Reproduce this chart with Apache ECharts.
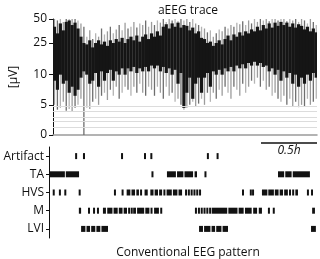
<!DOCTYPE html>
<html>
<head>
<meta charset="utf-8">
<script src="https://cdn.jsdelivr.net/npm/echarts@6/dist/echarts.min.js"></script>
<style>
  html, body { margin: 0; padding: 0; background: #fff; }
  #chart { width: 320px; height: 259px; }
</style>
</head>
<body>
<div id="chart"></div>
<script>
// aEEG amplitude per sample (µV)
const traceGrayHi = [50,48,50,46,50,50,50,50,48,44,40, 30,36,28,33,30,38,32,35,40,33,37,42,36,45,38,40,46,39,44,42,48,40,46,
  42,48,45,50,46,50,48,50,47,50,48, 50,46,50,44,42,40,38,34,36,30,33,37,35,40,38,42,40,45,43,47,42,
  48,44,50,46,50,48,50,47,50,50,48,50,50,47,50,48,50,46,50,48,44,50,46,42]
const traceBlackHi = [40,33,44,36,46,48,42,45,38,30,25, 24,27,22,25,27,24,26,23,27,25,28,26,29,25,28,30,27,31,26,30,32,28,33,
  30,35,31,40,43,38,44,40,45,39,42, 41,36,39,33,35,29,28,25,26,23,25,27,24,28,31,27,32,30,34,31,35,
  33,37,35,40,36,42,38,44,39,45,41,46,42,45,40,44,39,43,41,37,40,35,38,34]
const traceBlackLo = [9,7.5,10,8.5,9,7,8,6.5,7.5,9.5,11, 10,8.5,9,10.5,8,11,9,10.5,11.5,9,11,10,12,10,12,11,12.5,10.5,12,11,12.5,11,13,
  12,13,11,12.5,10.5,12,10,11.5,8.5,10.5,4.5, 7,9.5,6,8.5,9.5,7,9.5,10.5,8,11,10,11.5,10,12,11,12.5,11,13,12,13.5,12,
  14,13,14.5,13,14,12.5,13,11,12,10,11.5,9,11,9.5,10.5,8.5,10,8,9.5,8.5,10,9,10.5,9.5]
const traceGrayLo = [5,4.2,4.5,5.5,4,4.3,3.8,4.5,5,6,0, 4.5,4.3,5.5,6,5,6.5,7,5.8,7.5,6.5,8,6,7,8,7.5,6.5,8,7,8.5,7,6.5,8,7.5,
  6.5,8,7,6,8,6.5,7,5.5,6,5,4.2, 4.5,5,5.5,4.8,5.2,6,5,7,5.5,7,6,7.5,6.5,8,7,6,8,7.5,6.5,8.5,7,
  8,9,8.5,9.5,8,9,7.5,8,6.5,7,6,5.5,6.5,5,6,4.8,5.5,4.6,5,4.7,6,5,5.5,6]
const sampleStep = 1.6      // minutes between samples
const timeMax = 143.6       // minutes shown
const yTicks = [0, 5, 10, 25, 50]
const faintLevels = [1.3, 2.2, 3.0, 3.9, 4.8]

// conventional EEG pattern episodes, [start, end] in minutes
const rows = ['Artifact', 'TA', 'HVS', 'M', 'LVI']
const artifactEv = [[14.0,15.0],[18.2,19.3],[38.6,39.6],[50.9,51.6],[54.3,55.2],[84.6,85.4],[89.8,90.8]]
const taEv = [[0,8.5],[9.0,16.1],[54.9,55.7],[63.2,68.0],[68.6,72.0],[72.6,77.2],[78.0,79.3],[83.3,84.1],
  [122.7,126.0],[126.6,130.0],[130.6,139.8]]
const hvsEv = [[2.0,2.7],[5.3,6.0],[8.2,9.1],[15.9,16.6],[34.8,35.5],[38.9,39.6],[41.6,43.6],[44.2,46.1],
  [46.8,48.2],[48.8,49.8],[51.2,52.9],[54.3,56.0],[56.6,58.4],[59.0,60.6],[61.3,62.3],[63.0,65.8],
  [66.4,68.8],[69.4,71.3],[72.9,73.6],[74.4,75.1],[75.9,76.6],[77.4,78.1],[78.9,79.6],[80.4,81.4],
  [103.4,104.0],[107.6,108.3],[108.8,109.4],[114.1,117.0],[117.5,120.5],[121.0,123.0],[123.6,125.4],
  [126.0,128.0],[128.6,129.6],[130.3,131.2],[132.0,133.4],[138.2,138.9],[140.4,141.0]]
const mEv = [[16.0,17.2],[20.9,21.6],[23.6,24.5],[25.7,26.6],[28.9,30.5],[31.2,34.0],[34.6,36.8],[37.4,39.4],
  [40.0,41.8],[42.4,43.2],[43.8,44.5],[45.1,46.6],[47.2,51.0],[51.6,53.8],[54.4,55.4],[56.3,58.9],[59.6,60.5],
  [78.2,78.9],[79.8,80.5],[81.3,82.0],[82.8,83.5],[84.3,85.0],[85.8,86.5],[87.2,95.5],[96.1,101.0],
  [101.6,104.3],[105.0,108.6],[109.4,111.5],[112.4,114.1],[117.3,118.0],[119.9,120.6],[141.0,142.5]]
const lviEv = [[17.2,19.5],[20.1,22.0],[22.6,24.8],[25.4,27.5],[28.1,31.6],[80.4,82.5],[83.1,86.5],
  [87.1,89.0],[89.6,92.4],[93.0,95.9],[140.4,143.0]]
const scaleBarMin = 30

// semi-log aEEG scale: linear up to 10 µV, log above
const K = 13.2
const toAxis = v => v <= 10 ? v : 10 + K * Math.log10(v / 10)
const fromAxis = a => a <= 10 ? a : 10 * Math.pow(10, (a - 10) / K)

const font = '"Open Sans", "Noto Sans", sans-serif'
const traceTime = traceGrayHi.map((_, i) => 0.8 + i * sampleStep)
const grayData = traceTime.map((t, i) => [t, toAxis(traceGrayLo[i]), toAxis(traceGrayHi[i])])
const blackData = traceTime.map((t, i) => [t, toAxis(traceBlackLo[i]), toAxis(traceBlackHi[i])])

const eventData = []
;[artifactEv, taEv, hvsEv, mEv, lviEv].forEach((list, k) => {
  list.forEach(([s, e]) => eventData.push([s, e, k]))
})

// vertical amplitude bar per sample; alternate shades so the spikes read as separate strokes
const barItem = (w, colors) => (params, api) => {
  const t = api.value(0)
  const top = api.coord([t, api.value(2)])
  const bot = api.coord([t, api.value(1)])
  return {
    type: 'rect',
    shape: { x: top[0] - w / 2, y: top[1], width: w, height: bot[1] - top[1] },
    style: { fill: colors[params.dataIndex % colors.length] }
  }
}

const chart = echarts.init(document.getElementById('chart'), null, { renderer: 'canvas' })

chart.setOption({
  animation: false,
  textStyle: { fontFamily: font },
  title: [
    { text: 'aEEG trace', left: 183, top: 0, textAlign: 'center',
      textStyle: { fontSize: 12, fontWeight: 'normal', color: '#111', fontFamily: font } },
    { text: 'Conventional EEG pattern', left: 183, top: 242, textAlign: 'center',
      textStyle: { fontSize: 12, fontWeight: 'normal', color: '#111', fontFamily: font } }
  ],
  grid: [
    { left: 49, right: 3, top: 19, height: 116 },
    { left: 49, right: 3, top: 147, height: 91 }
  ],
  xAxis: [
    { type: 'value', gridIndex: 0, min: 0, max: timeMax,
      axisLine: { show: true, lineStyle: { color: '#9a9a9a', width: 1.5 } },
      axisTick: { show: false }, axisLabel: { show: false }, splitLine: { show: false } },
    { type: 'value', gridIndex: 1, min: 0, max: timeMax, show: false }
  ],
  yAxis: [
    { type: 'value', gridIndex: 0, min: 0, max: toAxis(50),
      name: '[µV]', nameLocation: 'middle', nameGap: 33, nameRotate: 90,
      nameTextStyle: { fontSize: 12, color: '#111', fontFamily: font },
      axisLine: { show: true, lineStyle: { color: '#111', width: 1 } },
      axisTick: { show: true, length: 4, customValues: yTicks.map(toAxis), lineStyle: { color: '#111' } },
      axisLabel: { fontSize: 12, color: '#111', margin: 6, customValues: yTicks.map(toAxis),
        formatter: v => String(Math.round(fromAxis(v))) },
      splitLine: { show: false } },
    { type: 'category', gridIndex: 1, data: rows, inverse: true,
      axisLine: { show: true, lineStyle: { color: '#111', width: 1 } },
      axisTick: { show: true, length: 3, alignWithLabel: true, lineStyle: { color: '#111' } },
      axisLabel: { fontSize: 12, color: '#111', margin: 5 },
      splitLine: { show: false } }
  ],
  series: [
    { type: 'custom', xAxisIndex: 0, yAxisIndex: 0, clip: true, silent: true,
      renderItem: barItem(1.3, ['#9c9c9c', '#6e6e6e', '#b4b4b4']), encode: { x: 0, y: [1, 2] }, data: grayData,
      markLine: { silent: true, symbol: 'none', label: { show: false },
        lineStyle: { color: '#dcdcdc', width: 1, type: 'solid' },
        data: faintLevels.map(v => ({ yAxis: toAxis(v) })) } },
    { type: 'custom', xAxisIndex: 0, yAxisIndex: 0, clip: true, silent: true,
      renderItem: barItem(3.2, ['#151515']), encode: { x: 0, y: [1, 2] }, data: blackData },
    { type: 'custom', xAxisIndex: 1, yAxisIndex: 1, clip: true, silent: true,
      encode: { x: [0, 1], y: 2 }, data: eventData,
      renderItem: (params, api) => {
        const a = api.coord([api.value(0), api.value(2)])
        const b = api.coord([api.value(1), api.value(2)])
        const w = Math.max(2, b[0] - a[0])
        return { type: 'rect', shape: { x: a[0], y: a[1] - 3, width: w, height: 6 }, style: { fill: '#111' } }
      } }
  ]
})

// 0.5h scale bar placed through the event axis scale
const xa = chart.convertToPixel({ xAxisIndex: 1 }, timeMax - scaleBarMin)
const xb = chart.convertToPixel({ xAxisIndex: 1 }, timeMax)
chart.setOption({
  graphic: [
    { type: 'line', shape: { x1: xa, y1: 143, x2: xb, y2: 143 }, style: { stroke: '#111', lineWidth: 1.5 } },
    { type: 'text', x: (xa + xb) / 2, y: 151,
      style: { text: '0.5h', font: 'italic 12px ' + font, textAlign: 'center', textVerticalAlign: 'middle', fill: '#111' } }
  ]
})
</script>
</body>
</html>
